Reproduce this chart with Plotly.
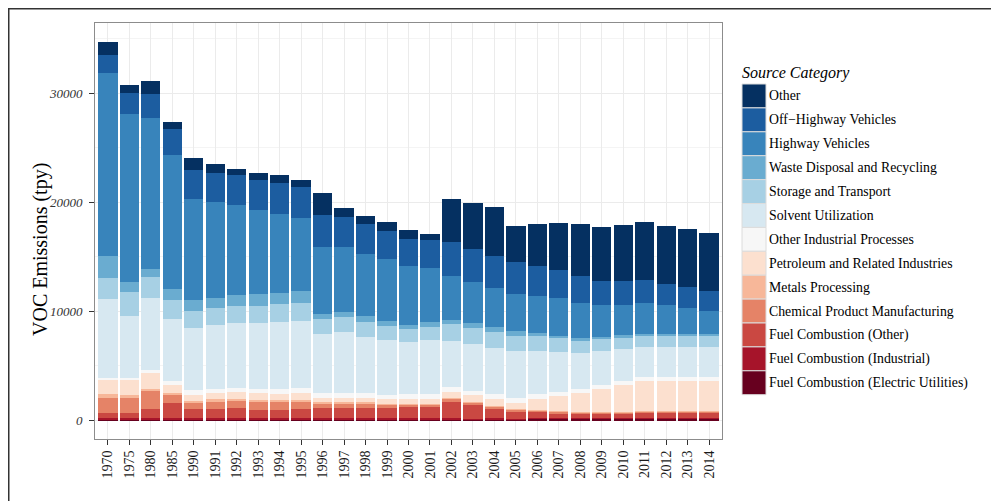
import plotly.graph_objects as go

years = ["1970", "1975", "1980", "1985", "1990", "1991", "1992", "1993", "1994", "1995",
         "1996", "1997", "1998", "1999", "2000", "2001", "2002", "2003", "2004", "2005",
         "2006", "2007", "2008", "2009", "2010", "2011", "2012", "2013", "2014"]

fuel_electric = [80, 50, 60, 92, 60, 60, 60, 60, 60, 60, 60, 60, 60, 60, 60, 60, 60, 30, 60, 30,
                 100, 100, 100, 100, 100, 100, 100, 100, 100]
fuel_industrial = [140, 100, 150, 122, 150, 150, 150, 150, 150, 150, 150, 150, 150, 150, 150, 150, 150, 70, 150, 70,
                   50, 50, 50, 50, 50, 50, 50, 50, 50]
fuel_other = [458, 519, 793, 1342, 793, 793, 915, 701, 701, 793, 915, 915, 915, 915, 1007, 976, 1434, 1281, 793, 671,
              549, 458, 458, 458, 458, 549, 549, 549, 549]
chemical = [1373, 1373, 1647, 824, 549, 732, 641, 763, 763, 641, 397, 397, 397, 275, 183, 213, 340, 275, 275, 244,
            183, 183, 92, 92, 92, 92, 92, 92, 92]
metals = [366, 244, 183, 92, 183, 183, 153, 153, 153, 183, 122, 122, 122, 122, 122, 92, 30, 30, 30, 30,
          20, 20, 20, 20, 20, 20, 20, 20, 20]
petroleum = [1250, 1373, 1494, 732, 549, 549, 641, 641, 549, 641, 366, 366, 366, 397, 397, 427, 549, 641, 641, 549,
             1007, 1373, 1739, 2105, 2471, 2745, 2745, 2745, 2745]
other_industrial = [183, 183, 244, 366, 458, 366, 366, 366, 458, 458, 458, 458, 458, 366, 458, 458, 458, 366, 458, 458,
                    458, 366, 366, 366, 366, 366, 366, 366, 366]
solvent = [7228, 5673, 6588, 5673, 5673, 5856, 5948, 6039, 6131, 6131, 5399, 5582, 5124, 5033, 4758, 4941, 4209, 4301, 4209, 4301,
           3935, 3660, 3294, 3111, 2928, 2745, 2745, 2745, 2745]
storage = [1922, 2196, 1922, 1739, 1556, 1556, 1556, 1556, 1647, 1647, 1373, 1373, 1373, 1281, 1190, 1190, 1556, 1464, 1464, 1373,
           1373, 1281, 1190, 1190, 1098, 1098, 1098, 1098, 1098]
waste = [2013, 915, 732, 1007, 1007, 915, 1007, 1098, 1007, 1098, 458, 458, 549, 458, 366, 458, 366, 458, 458, 458,
         275, 183, 183, 92, 183, 92, 92, 92, 92]
highway = [16836, 15464, 13908, 12353, 9333, 8876, 8327, 7778, 7320, 6771, 6222, 6039, 5765, 5673, 5399, 4941, 4026, 3752, 3569, 3386,
           3477, 3569, 3203, 2928, 2745, 2837, 2654, 2379, 2105]
off_highway = [1647, 1922, 2196, 2379, 2654, 2654, 2745, 2745, 2837, 2837, 2928, 2745, 2745, 2654, 2562, 2654, 3111, 3020, 2928, 2928,
               2745, 2562, 2562, 2288, 2288, 2196, 2013, 2013, 1922]
other = [1190, 732, 1190, 641, 1098, 824, 549, 641, 732, 641, 2013, 824, 732, 824, 824, 549, 4026, 4209, 4484, 3294,
         3843, 4301, 4758, 4941, 5124, 5307, 5307, 5307, 5307]

# stacking order: bottom -> top
series_names = ["Fuel Combustion (Electric Utilities)", "Fuel Combustion (Industrial)", "Fuel Combustion (Other)",
                "Chemical Product Manufacturing", "Metals Processing", "Petroleum and Related Industries",
                "Other Industrial Processes", "Solvent Utilization", "Storage and Transport",
                "Waste Disposal and Recycling", "Highway Vehicles", "Off\u2212Highway Vehicles", "Other"]
series_values = [fuel_electric, fuel_industrial, fuel_other, chemical, metals, petroleum, other_industrial,
                 solvent, storage, waste, highway, off_highway, other]
series_colors = ["#67001f", "#a6142a", "#ca4842", "#e58367", "#f7b799", "#fce0cf", "#f7f7f7",
                 "#d7e8f1", "#a7d0e4", "#6aacd0", "#3884bb", "#1c5da0", "#053061"]

y_ticks = [0, 10000, 20000, 30000]

SERIF = "Liberation Serif"
OFF = 8                      # page body margin in the browser
W, H = 999 - OFF, 501 - OFF  # figure size so it fits the window
PL, PR, PT, PB = 95, 722, 23, 439  # plot area, absolute page pixels


def px_x(p):
    return (p - PL) / (PR - PL)


def px_y(p):
    return (PB - p) / (PB - PT)


fig = go.Figure()
for name, vals, col in zip(series_names, series_values, series_colors):
    fig.add_trace(go.Bar(x=years, y=vals, name=name, marker=dict(color=col, line=dict(width=0)),
                         showlegend=False))

totals = [sum(v) for v in zip(*series_values)]
ymax = max(totals)
pad = ymax * 0.05

fig.update_layout(
    width=W, height=H, autosize=False,
    margin=dict(l=PL - OFF, r=999 - PR, t=PT - OFF, b=501 - PB, pad=0),
    barmode="stack", bargap=0.1,
    paper_bgcolor="white", plot_bgcolor="white",
    font=dict(family=SERIF, color="#1a1a1a"),
)
fig.update_xaxes(
    type="category", range=[-0.6, len(years) - 0.4],
    showgrid=True, gridcolor="#ebebeb", gridwidth=1,
    showline=True, mirror=True, linecolor="#8c8c8c", linewidth=1,
    ticks="outside", ticklen=5, tickcolor="#333333", tickwidth=1,
    tickangle=-90, tickfont=dict(family=SERIF, size=14, color="#1a1a1a"),
)
fig.update_yaxes(
    range=[-pad, ymax + pad], tickvals=y_ticks, ticktext=[str(v) for v in y_ticks],
    showgrid=True, gridcolor="#ebebeb", gridwidth=1, zeroline=False,
    minor=dict(dtick=5000, tick0=0, showgrid=True, gridcolor="#f4f4f4", gridwidth=0.6, ticks=""),
    showline=True, mirror=True, linecolor="#8c8c8c", linewidth=1,
    ticks="outside", ticklen=5, tickcolor="#333333", tickwidth=1,
    ticklabelstandoff=4,
    tickfont=dict(family=SERIF, size=13, color="#333333", style="italic"),
)

# y-axis title
fig.add_annotation(text="VOC Emissions (tpy)", xref="paper", yref="paper", x=px_x(41), y=px_y(250),
                   xanchor="center", yanchor="middle", textangle=-90, showarrow=False,
                   font=dict(family=SERIF, size=20, color="#000000"))

# outer frame (top edge placed at the top of the figure area)
fig.add_shape(type="rect", xref="paper", yref="paper",
              x0=px_x(8.75), x1=px_x(1003), y0=px_y(OFF + 0.75), y1=px_y(506),
              line=dict(color="#333333", width=1.5), fillcolor="rgba(0,0,0,0)", layer="above")

# legend (drawn manually to match ggplot key sizes)
fig.add_annotation(text="Source Category", xref="paper", yref="paper", x=px_x(740), y=px_y(73),
                   xanchor="left", yanchor="middle", showarrow=False,
                   font=dict(family=SERIF, size=16, color="#000000", style="italic"))
key_top, key_h = 84, 23.9
for i, (name, col) in enumerate(zip(series_names[::-1], series_colors[::-1])):
    t = key_top + i * key_h
    fig.add_shape(type="rect", xref="paper", yref="paper",
                  x0=px_x(742), x1=px_x(766), y0=px_y(t + key_h), y1=px_y(t),
                  fillcolor=col, line=dict(color="#dcdcdc", width=1))
    fig.add_annotation(text=name, xref="paper", yref="paper", x=px_x(767), y=px_y(t + key_h / 2),
                       xanchor="left", yanchor="middle", showarrow=False,
                       font=dict(family=SERIF, size=13.8, color="#000000"))

fig.write_html("out.html")
